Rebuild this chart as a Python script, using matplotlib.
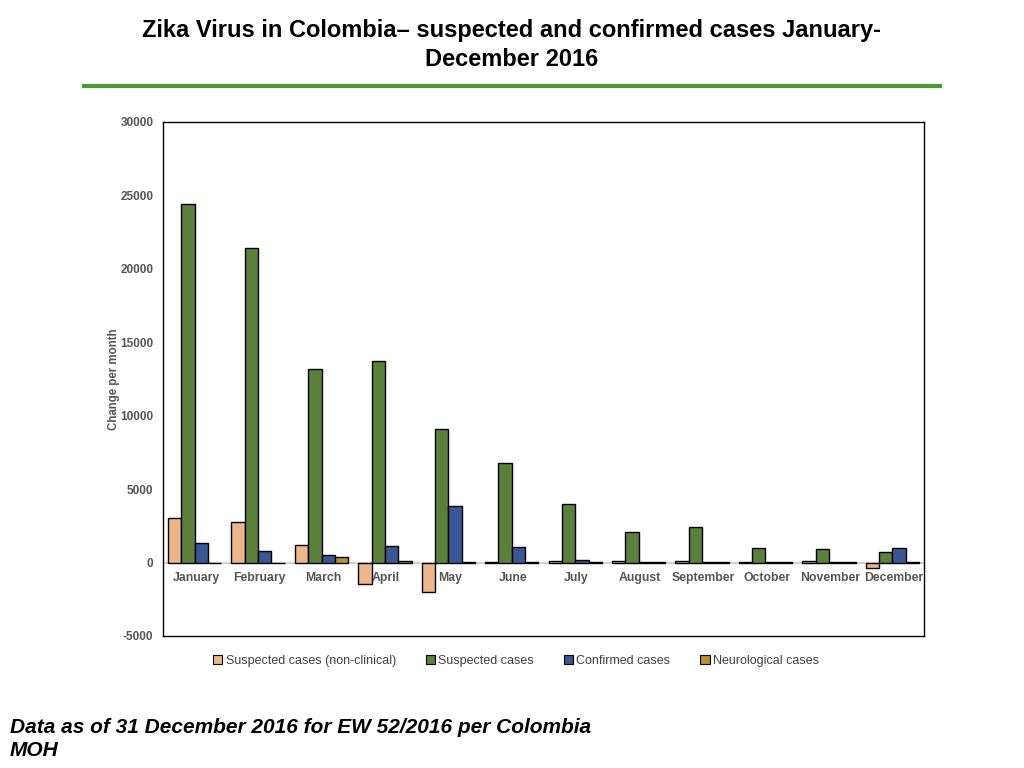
import matplotlib
matplotlib.use("Agg")
import matplotlib.pyplot as plt
import matplotlib.transforms as mtransforms
from matplotlib.lines import Line2D
from matplotlib.patches import Patch
import numpy as np

plt.rcParams['font.family'] = ['Liberation Sans', 'DejaVu Sans']

months = ["January", "February", "March", "April", "May", "June", "July",
          "August", "September", "October", "November", "December"]
non_clinical = [3050, 2780, 1200, -1450, -2000, 30, 130, 130, 130, 30, 130, -360]
suspected = [24400, 21400, 13200, 13750, 9120, 6750, 4020, 2100, 2430, 1010, 950, 740]
confirmed = [1350, 820, 530, 1140, 3860, 1080, 200, 30, 30, 30, 30, 1000]
neurological = [0, 0, 400, 140, 30, 30, 30, 30, 30, 30, 30, 30]

series_names = ["Suspected cases (non-clinical)", "Suspected cases",
                "Confirmed cases", "Neurological cases"]
series_colors = ["#ecb58a", "#5b803c", "#3a5794", "#b8922c"]
yticks = [-5000, 0, 5000, 10000, 15000, 20000, 25000, 30000]

fig = plt.figure(figsize=(10.24, 7.68), dpi=100)
ax = fig.add_axes([163/1024, 1-636/768, (924-163)/1024, (636-122)/768])

x = np.arange(len(months))
w = 0.21
data = [non_clinical, suspected, confirmed, neurological]
for k, (vals, col) in enumerate(zip(data, series_colors)):
    ax.bar(x + (k - 1.5) * w, vals, width=w, color=col, edgecolor='black',
           linewidth=1.0, zorder=3)

ax.axhline(0, color='#c8c8c8', linewidth=1.2, zorder=2)
ax.set_xlim(-0.5, 11.5)
ax.set_ylim(-5000, 30000)
ax.set_yticks(yticks)
ax.set_yticklabels([str(v) for v in yticks], fontsize=8.5, fontweight='bold',
                   color='#555555')
ax.tick_params(axis='y', length=0, pad=7)
ax.set_xticks([])
for s in ax.spines.values():
    s.set_color('black')
    s.set_linewidth(1.0)

off = mtransforms.offset_copy(ax.transData, fig=fig, x=0, y=-15, units='dots')
for i, m in enumerate(months):
    ax.text(i + 0.02, 0, m, transform=off, ha='center', va='center',
            fontsize=8.8, fontweight='bold', color='#555555', zorder=5)

ax.set_ylabel("Change per month", fontsize=8.3, fontweight='bold',
              color='#555555', labelpad=0)

handles = [Patch(facecolor=c, edgecolor='black', linewidth=0.8) for c in series_colors]
fig.legend(handles, series_names, loc='center', bbox_to_anchor=(516/1024, 1-661/768),
           ncol=4, frameon=False, fontsize=9, handlelength=0.75, handleheight=0.75,
           handletextpad=0.25, columnspacing=2.4, labelcolor='#404040')

fig.text(0.5, 1-45/768,
         "Zika Virus in Colombia\u2013 suspected and confirmed cases January-\nDecember 2016",
         ha='center', va='center', fontsize=17, fontweight='bold',
         linespacing=1.36, color='black')
fig.add_artist(Line2D([84/1024, 940/1024], [1-86/768, 1-86/768],
                      transform=fig.transFigure, color='#4b9a33', linewidth=3))

fig.text(10/1024, 1-739/768,
         "Data as of 31 December 2016 for EW 52/2016 per Colombia\nMOH",
         ha='left', va='center', fontsize=15, fontweight='bold', style='italic',
         linespacing=1.28, color='black')

fig.savefig("out.png", dpi=100)
